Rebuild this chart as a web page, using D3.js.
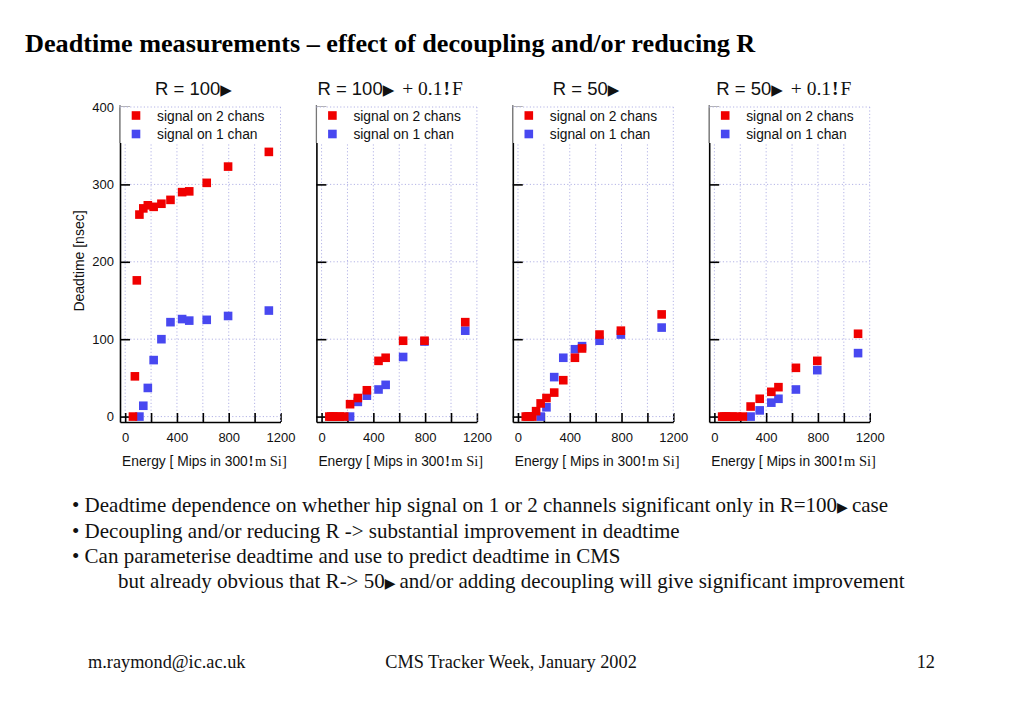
<!DOCTYPE html>
<html>
<head>
<meta charset="utf-8">
<script src="https://cdn.jsdelivr.net/npm/d3@7"></script>
<style>
  body { margin: 0; background: #fff; }
  svg { display: block; }
  .sans { font-family: "Liberation Sans", Arial, sans-serif; }
  .serif { font-family: "Liberation Serif", "Times New Roman", serif; }
</style>
</head>
<body>
<svg id="svg" width="1023" height="708"></svg>
<script>
// energies (Mips in 300um Si)
const energy = [60, 75, 90, 110, 140, 175, 220, 280, 350, 440, 495, 630, 795, 1110];

// deadtime [nsec], null = not measured / not shown
const r100_2ch  = [0, 52, 176, 261, 269, 273, 271, 275, 280, 290, 291, 302, 323, 342];
const r100_1ch  = [null, null, null, 0, 14, 37, 73, 100, 122, 126, 124, 125, 130, 137];
const r100c_2ch = [0, 0, 0, 0, 0, 0, 16, 24, 34, 72, 76, 98, 98, 122];
const r100c_1ch = [null, null, null, null, null, null, 0, 19, 27, 35, 41, 77, 97, 111];
const r50_2ch   = [0, 0, 0, 0, 7, 17, 24, 31, 47, 76, 88, 106, 111, 132];
const r50_1ch   = [null, null, null, null, null, 0, 12, 51, 76, 87, 91, 98, 106, 115];
const r50c_2ch  = [0, 0, 0, 0, 0, 0, 0, 13, 23, 32, 38, 63, 72, 107];
const r50c_1ch  = [null, null, null, null, null, null, null, 0, 8, 18, 23, 35, 60, 82];

const titles = ["R = 100", "R = 100", "R = 50", "R = 50"];
const decoupled = [false, true, false, true];
const series2 = [r100_2ch, r100c_2ch, r50_2ch, r50c_2ch];
const series1 = [r100_1ch, r100c_1ch, r50_1ch, r50c_1ch];
const legendLabels = ["signal on 2 chans", "signal on 1 chan"];
const xTicks = [0, 200, 400, 600, 800, 1000, 1200];
const xLabels = [0, 400, 800, 1200];
const yTicks = [0, 100, 200, 300, 400];

const bullets = [
  "• Deadtime dependence on whether hip signal on 1 or 2 channels significant only in R=100",
  "• Decoupling and/or reducing R -> substantial improvement in deadtime",
  "• Can parameterise deadtime and use to predict deadtime in CMS",
  "but already obvious that R-> 50"
];

const RED = "#f00000", BLUE = "#4848f0", GRID = "#b4b4e6";
const svg = d3.select("#svg");

// header
svg.append("text")
  .attr("class", "serif")
  .attr("x", 25).attr("y", 52)
  .attr("font-size", 26.2).attr("font-weight", "bold")
  .text("Deadtime measurements – effect of decoupling and/or reducing R");

const panelW = 160.5, step = 196.4, left0 = 120;
const titleDx = [35, 1, 40, 7];
const y = d3.scaleLinear().domain([-7, 400]).range([422, 107]);

titles.forEach((t, i) => {
  const x0 = left0 + i * step;
  const x = d3.scaleLinear().domain([-40, 1200]).range([x0, x0 + panelW]);
  const g = svg.append("g");

  // grid
  g.append("g").selectAll("line").data(xTicks.slice(0, -1)).join("line")
    .attr("x1", d => x(d)).attr("x2", d => x(d))
    .attr("y1", y(400)).attr("y2", y(-7))
    .attr("stroke", GRID).attr("stroke-dasharray", "1.2,2.2");
  g.append("g").selectAll("line").data(yTicks.slice(0, -1)).join("line")
    .attr("x1", x(-40)).attr("x2", x(1200))
    .attr("y1", d => y(d)).attr("y2", d => y(d))
    .attr("stroke", GRID).attr("stroke-dasharray", "1.2,2.2");

  // axes
  const xAxis = d3.axisBottom(x).tickValues(xTicks).tickSize(-9).tickSizeOuter(0).tickPadding(11)
    .tickFormat(d => xLabels.includes(d) ? d : "");
  const ga = g.append("g").attr("transform", `translate(0,${y(-7)})`).call(xAxis);
  const yAxis = d3.axisLeft(y).tickValues(yTicks).tickSize(-10).tickSizeOuter(0).tickPadding(6);
  const gy = g.append("g").attr("transform", `translate(${x0},0)`).call(yAxis);
  [ga, gy].forEach(a => {
    a.selectAll("path, line").attr("stroke", "#000").attr("stroke-width", 1.6);
    a.selectAll("text").attr("class", "sans").attr("font-size", 13).attr("fill", "#111");
  });
  if (i > 0) gy.selectAll("text").remove();

  // points
  const sz = 8.6;
  [[series1[i], BLUE], [series2[i], RED]].forEach(([vals, col]) => {
    const pts = energy.map((e, k) => ({e, v: vals[k]})).filter(d => d.v !== null);
    g.append("g").selectAll("rect").data(pts).join("rect")
      .attr("x", d => x(d.e) - sz / 2).attr("y", d => y(d.v) - sz / 2)
      .attr("width", sz).attr("height", sz).attr("fill", col);
  });

  // legend
  g.append("rect").attr("x", x0).attr("y", y(400)).attr("width", panelW).attr("height", 36)
    .attr("fill", "#fff");
  g.append("line").attr("x1", x0).attr("x2", x0).attr("y1", y(400) - 2).attr("y2", y(400) + 36)
    .attr("stroke", "#777").attr("stroke-width", 1.3);
  legendLabels.forEach((lab, k) => {
    const ly = 115.5 + k * 18.5;
    g.append("rect").attr("x", x0 + 16 - sz / 2).attr("y", ly - sz / 2)
      .attr("width", sz).attr("height", sz).attr("fill", k === 0 ? RED : BLUE);
    g.append("text").attr("class", "sans").attr("x", x0 + 37).attr("y", ly + 5)
      .attr("font-size", 13.8).attr("fill", "#111").text(lab);
  });

  // frame top/right dotted
  g.append("line").attr("x1", x0).attr("x2", x(1200)).attr("y1", y(400)).attr("y2", y(400))
    .attr("stroke", GRID).attr("stroke-dasharray", "1.2,2.2");
  g.append("line").attr("x1", x(1200)).attr("x2", x(1200)).attr("y1", y(400)).attr("y2", y(-7))
    .attr("stroke", GRID).attr("stroke-dasharray", "1.2,2.2");

  // title
  const tt = g.append("text").attr("x", x0 + titleDx[i]).attr("y", 95)
    .attr("class", "sans").attr("font-size", 18.5).attr("fill", "#111");
  tt.append("tspan").text(t);
  tt.append("tspan").attr("font-family", "DejaVu Sans").attr("font-size", 15).attr("dx", 0).text("▶");
  if (decoupled[i]) {
    tt.append("tspan").attr("class", "serif").attr("font-size", 19.5).attr("dx", 8).text("+ 0.1");
    tt.append("tspan").attr("class", "serif").attr("font-weight", "bold").attr("font-size", 19.5).attr("dx", 1).text("!");
    tt.append("tspan").attr("class", "serif").attr("font-size", 19.5).attr("dx", 2).text("F");
  }

  // x title
  const xt = g.append("text").attr("x", x0 + 2).attr("y", 466).attr("class", "sans")
    .attr("font-size", 13.8).attr("fill", "#111");
  xt.append("tspan").text("Energy [ Mips in 300");
  xt.append("tspan").attr("class", "serif").attr("font-weight", "bold").attr("dx", 1).text("!");
  xt.append("tspan").attr("class", "serif").attr("font-size", 14.5).attr("dx", 1.5).text("m Si]");
});

// y label
svg.append("text").attr("class", "sans").attr("font-size", 14).attr("fill", "#111")
  .attr("text-anchor", "middle")
  .attr("transform", "translate(84,261) rotate(-90)")
  .text("Deadtime [nsec]");

// bullets
const by = [512, 538, 563, 588];
bullets.forEach((b, k) => {
  const t = svg.append("text").attr("class", "serif").attr("font-size", 21)
    .attr("x", k === 3 ? 118 : 72).attr("y", by[k]).attr("fill", "#111");
  t.append("tspan").text(b);
  if (k === 0) {
    t.append("tspan").attr("font-family", "DejaVu Sans").attr("font-size", 14).text("▶");
    t.append("tspan").attr("dx", 4).text("case");
  }
  if (k === 3) {
    t.append("tspan").attr("font-family", "DejaVu Sans").attr("font-size", 14).text("▶");
    t.append("tspan").attr("dx", 4).text("and/or adding decoupling will give significant improvement");
  }
});

// footer
const foot = [["m.raymond@ic.ac.uk", 88, "start"], ["CMS Tracker Week, January 2002", 511, "middle"], ["12", 935, "end"]];
foot.forEach(([s, fx, anc]) => {
  svg.append("text").attr("class", "serif").attr("font-size", 18.3).attr("x", fx).attr("y", 668)
    .attr("text-anchor", anc).attr("fill", "#111").text(s);
});
</script>
</body>
</html>
